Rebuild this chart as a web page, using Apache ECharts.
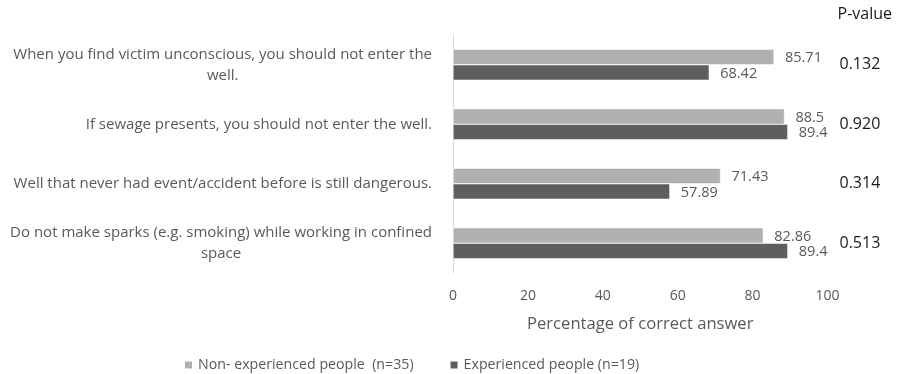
<!DOCTYPE html>
<html>
<head>
<meta charset="utf-8">
<script src="https://cdn.jsdelivr.net/npm/echarts@6/dist/echarts.min.js"></script>
<style>
  html, body { margin: 0; padding: 0; background: #fff; }
  #chart { width: 899px; height: 374px; }
</style>
</head>
<body>
<div id="chart"></div>
<script>
// Survey statements (top to bottom)
const statements = [
  ['When you find victim unconscious, you should not enter the', 'well.'],
  ['If sewage presents, you should not enter the well.'],
  ['Well that never had event/accident before is still dangerous.'],
  ['Do not make sparks (e.g. smoking) while working in confined', 'space']
];
const categories = statements.map(s => s.join(' '));

// Percentage of correct answers per group
const nonExperienced = [85.71, 88.5, 71.43, 82.86];
const experienced = [68.42, 89.4, 57.89, 89.4];

// P-values per statement
const pValues = ['0.132', '0.920', '0.314', '0.513'];

const seriesNames = ['Non- experienced people  (n=35)', 'Experienced people (n=19)'];
const xTicks = { min: 0, max: 100, interval: 20 };

const FONT = '"Open Sans", Lato, sans-serif';
const GREY_TEXT = '#595959';

const chart = echarts.init(document.getElementById('chart'), null, { renderer: 'canvas' });

const labelStyle = {
  show: true,
  position: 'right',
  distance: 11,
  color: GREY_TEXT,
  fontFamily: FONT,
  fontSize: 14.5,
  formatter: p => String(p.value)
};

chart.setOption({
  animation: false,
  textStyle: { fontFamily: FONT },
  title: {
    text: 'P-value',
    right: 2,
    top: 1,
    textStyle: { fontFamily: FONT, fontSize: 16, fontWeight: 'normal', color: '#1a1a1a' }
  },
  grid: { left: 453, right: 71.5, top: 35, bottom: 101, containLabel: false },
  legend: {
    top: 353,
    left: 178,
    itemWidth: 9,
    itemHeight: 9,
    itemGap: 35,
    icon: 'rect',
    textStyle: { color: GREY_TEXT, fontFamily: FONT, fontSize: 14.2 },
    data: seriesNames
  },
  xAxis: {
    type: 'value',
    min: xTicks.min,
    max: xTicks.max,
    interval: xTicks.interval,
    axisLine: { show: false },
    axisTick: { show: false },
    splitLine: { show: false },
    axisLabel: { color: GREY_TEXT, fontFamily: FONT, fontSize: 14, margin: 16 },
    name: 'Percentage of correct answer',
    nameLocation: 'middle',
    nameGap: 43,
    nameTextStyle: { color: GREY_TEXT, fontFamily: FONT, fontSize: 16.6 }
  },
  yAxis: [
    {
      type: 'category',
      inverse: true,
      data: categories,
      axisLine: { show: true, lineStyle: { color: '#d9d9d9', width: 1 } },
      axisTick: { show: false },
      axisLabel: {
        margin: 21,
        color: GREY_TEXT,
        fontFamily: FONT,
        fontSize: 15,
        lineHeight: 21,
        formatter: (v, i) => statements[i].map(line => '{c|' + line + '}').join('\n'),
        rich: { c: { align: 'center', color: GREY_TEXT, fontFamily: FONT, fontSize: 15, lineHeight: 21 } }
      }
    },
    {
      type: 'category',
      inverse: true,
      position: 'right',
      data: pValues,
      axisLine: { show: false },
      axisTick: { show: false },
      axisLabel: {
        align: 'left',
        margin: 12,
        color: '#1a1a1a',
        fontFamily: FONT,
        fontSize: 16,
        padding: [0, 0, 13, 0]
      }
    }
  ],
  series: [
    {
      name: seriesNames[0],
      type: 'bar',
      data: nonExperienced,
      barGap: '0%',
      barCategoryGap: '48%',
      itemStyle: { color: '#b0b0b0', borderColor: '#ffffff', borderWidth: 0.5 },
      label: Object.assign({}, labelStyle, { offset: [0, 1] })
    },
    {
      name: seriesNames[1],
      type: 'bar',
      data: experienced,
      barGap: '0%',
      barCategoryGap: '48%',
      itemStyle: { color: '#5e5e5e', borderColor: '#ffffff', borderWidth: 0.5 },
      label: Object.assign({}, labelStyle, { offset: [0, 1] })
    }
  ]
});
</script>
</body>
</html>
